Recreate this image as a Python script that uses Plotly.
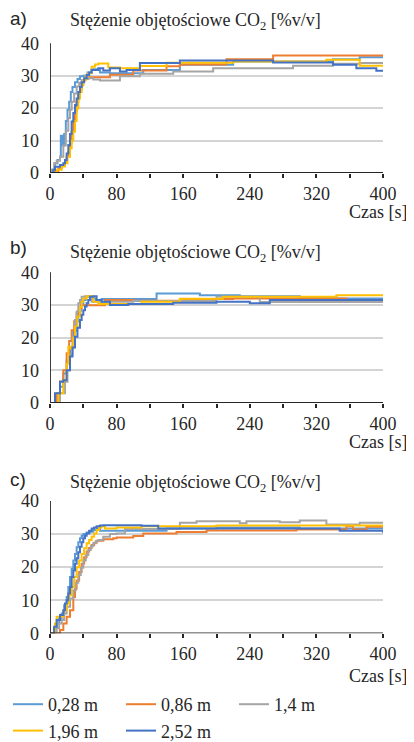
import plotly.graph_objects as go

W, H = 414, 742
names = ["0,28 m", "0,86 m", "1,4 m", "1,96 m", "2,52 m"]
colors = ["#5B9BD5", "#ED7D31", "#A5A5A5", "#FFC000", "#4472C4"]
x_ticks = [0, 80, 160, 240, 320, 400]
y_ticks = [0, 10, 20, 30, 40]
panel_labels = ["a)", "b)", "c)"]
y_title = "Stężenie objętościowe CO<sub>2</sub> [%v/v]"
x_title = "Czas [s]"

# ---- panel a ----
a_t_028 = [0, 3, 6, 9, 12, 13, 15, 17, 19, 21, 23, 25, 27, 30, 33, 36, 40, 45, 50, 60, 72, 112, 156, 220, 340, 372, 400]
a_v_028 = [0, 1, 3, 4, 5, 11.5, 8.5, 12, 16, 19.5, 22, 25, 26.5, 28, 29, 29.8, 30, 31, 32, 31, 30.8, 31.8, 33.4, 34.4, 35.1, 35.7, 35.7]
a_t_086 = [0, 6, 10, 14, 18, 20, 22, 24, 26, 28, 30, 32, 34, 36, 38, 40, 42, 46, 55, 72, 100, 140, 156, 212, 268, 400]
a_v_086 = [0, 0.5, 1.5, 2.5, 3.5, 5, 6.5, 9.5, 12.7, 16, 19, 22, 24, 26, 27.5, 28.5, 29.2, 29.5, 29.5, 30.3, 31.6, 32.9, 33.5, 35.1, 36.2, 36.2]
a_t_14 = [0, 2, 5, 8, 12, 16, 19, 22, 24, 26, 29, 32, 35, 38, 42, 46, 52, 60, 72, 84, 108, 148, 196, 292, 340, 372, 400]
a_v_14 = [0, 1, 3, 3.8, 5, 8.5, 13, 17, 19.5, 22, 24.5, 26.7, 27.8, 28.7, 29, 29.2, 28.8, 28.5, 28.5, 29.8, 30.6, 31.3, 32.3, 33.1, 33.7, 33.9, 33.9]
a_t_196 = [0, 8, 14, 18, 21, 24, 26, 28, 30, 32, 34, 36, 38, 40, 43, 46, 50, 54, 58, 64, 70, 84, 108, 140, 220, 332, 372, 400]
a_v_196 = [0, 1, 2, 3, 5, 7.6, 10, 12.7, 16, 20, 23, 25, 27, 28.7, 30, 30.8, 32.8, 33.5, 33.8, 33.8, 32.5, 32.3, 33, 34, 34.4, 34.9, 33.1, 33.1]
a_t_252 = [0, 4, 6, 12, 16, 18, 20, 22, 24, 26, 28, 30, 32, 34, 36, 38, 41, 44, 47, 50, 58, 64, 72, 84, 92, 108, 156, 268, 340, 368, 392, 400]
a_v_252 = [0, 1, 1.9, 2.5, 3, 4, 6, 8.6, 12, 15.9, 18.5, 21, 23, 25, 26.5, 28, 29.2, 30.2, 31, 31.8, 32.3, 31.6, 32.3, 31.3, 31.8, 33.9, 34.7, 34.1, 33.4, 32.3, 31.5, 31.5]

# ---- panel b ----
b_t_028 = [0, 4, 8, 12, 16, 20, 24, 28, 31, 34, 37, 40, 43, 46, 50, 55, 62, 128, 180, 228, 300, 344, 400]
b_v_028 = [0, 0, 2, 5, 9, 13, 17, 22, 25, 28, 30, 31.5, 32.5, 32.7, 32, 31.5, 31.8, 33.5, 33, 32.7, 32.4, 32, 32]
b_t_086 = [0, 4, 8, 12, 16, 20, 23, 26, 29, 32, 35, 38, 66, 100, 160, 220, 300, 356, 364, 400]
b_v_086 = [0, 0, 3, 6.6, 10, 15.2, 19, 22.3, 25, 27.4, 29, 29.9, 31.5, 31.3, 31.8, 32, 32, 31, 31.5, 31.5]
b_t_14 = [0, 6, 12, 18, 21, 24, 27, 30, 32, 34, 36, 38, 42, 46, 50, 100, 200, 240, 252, 276, 400]
b_v_14 = [0, 0, 3, 6.5, 10, 14.7, 20, 25.4, 28, 30.5, 31.5, 32.5, 32.7, 32.7, 31, 31.2, 32.5, 32.5, 30.9, 30.9, 30.9]
b_t_196 = [0, 6, 10, 16, 20, 22, 25, 28, 30, 33, 36, 38, 40, 44, 48, 52, 58, 110, 156, 208, 344, 400]
b_v_196 = [0, 0, 3, 7, 12, 17.2, 16.7, 20, 23.3, 26.5, 29.4, 31, 32, 32.7, 32.7, 31, 30.3, 31, 31.9, 32.5, 33, 33]
b_t_252 = [0, 2, 6, 10, 12, 16, 20, 24, 27, 30, 33, 36, 38, 40, 42, 44, 46, 48, 52, 56, 62, 72, 94, 148, 200, 240, 264, 400]
b_v_252 = [0, 0, 3, 3, 6.5, 7, 10, 14.2, 17, 20.3, 23, 25.4, 27, 28.4, 29.5, 30.5, 31.5, 32.5, 32.7, 31.5, 31, 30, 30.3, 30.7, 31, 30.5, 31.5, 31.3]

# ---- panel c ----
c_t_028 = [0, 2, 5, 8, 11, 14, 17, 20, 22, 24, 26, 28, 30, 32, 34, 36, 38, 40, 44, 48, 52, 56, 60, 100, 140, 200, 300, 400]
c_v_028 = [0, 0, 1.5, 3, 4.5, 6, 8.5, 11, 14, 17, 19.5, 22, 24, 26, 27.5, 28.7, 29.5, 30, 30.5, 30.7, 31.2, 31.7, 31, 31, 31.7, 32, 31.7, 31.7]
c_t_086 = [0, 8, 12, 16, 20, 24, 28, 30, 32, 35, 38, 41, 44, 47, 50, 53, 56, 64, 76, 80, 100, 112, 152, 188, 296, 356, 364, 380, 400]
c_v_086 = [0, 0, 1, 3, 5, 7, 11, 13.5, 16, 18.5, 21, 23, 24.7, 25.8, 26.7, 27.4, 28, 28.4, 28.7, 29, 29.4, 30.2, 30.6, 31.1, 31.4, 32.4, 31.4, 32.2, 32.2]
c_t_14 = [0, 4, 8, 11, 14, 17, 20, 24, 28, 31, 34, 37, 40, 43, 46, 49, 52, 55, 58, 64, 72, 80, 90, 156, 176, 228, 236, 276, 300, 332, 372, 400]
c_v_14 = [0, 0, 1.5, 3, 4, 6, 8, 10.5, 13, 15.3, 17.6, 19.8, 22, 23.7, 25.2, 26.3, 27.2, 27.8, 28.2, 29.2, 30, 30.2, 31.5, 33.4, 33.9, 33.3, 33.9, 33.6, 34.1, 32.9, 33.4, 33.4]
c_t_196 = [0, 4, 6, 8, 12, 16, 20, 23, 26, 29, 32, 35, 38, 41, 44, 47, 50, 53, 56, 59, 62, 66, 80, 110, 200, 400]
c_v_196 = [0, 0, 3, 5, 5, 7, 9, 11.5, 14, 17, 20, 22, 24, 25.7, 27.2, 28.2, 29.2, 30.2, 31.2, 32, 32.4, 31.7, 32, 32.4, 32.6, 32.4]
c_t_252 = [0, 2, 5, 8, 12, 16, 18, 20, 22, 24, 26, 28, 30, 32, 34, 36, 38, 40, 42, 44, 47, 50, 53, 56, 60, 64, 110, 130, 316, 348, 400]
c_v_252 = [0, 0, 2, 4, 5.5, 7, 9, 10, 12, 14, 17, 19, 21, 22.7, 24.5, 26.2, 27.5, 28.7, 29.5, 30.2, 31, 31.7, 32, 32.4, 32.6, 32.7, 32.5, 31.7, 31.7, 31, 30.4]

panels = [
    [(a_t_028, a_v_028), (a_t_086, a_v_086), (a_t_14, a_v_14), (a_t_196, a_v_196), (a_t_252, a_v_252)],
    [(b_t_028, b_v_028), (b_t_086, b_v_086), (b_t_14, b_v_14), (b_t_196, b_v_196), (b_t_252, b_v_252)],
    [(c_t_028, c_v_028), (c_t_086, c_v_086), (c_t_14, c_v_14), (c_t_196, c_v_196), (c_t_252, c_v_252)],
]

# Page places the figure at an 8px body margin; positions below are page pixels.
OFF = 8
def xp(px):
    return (px - OFF) / W
def yp(py):
    return 1 - (py - OFF) / H

# layout geometry in page pixels: (y of value 0, y of value 40)
geom = [(173, 43.3), (403, 272.3), (633.3, 501)]
title_y = [22, 253, 483]
label_y = [18, 248, 479]
czas_y = [212, 442, 676]
X0, X1 = 50, 383

SERIF = "Liberation Serif, Times New Roman, serif"
SANS = "Liberation Sans, Arial, sans-serif"
DARK = "#262626"

fig = go.Figure()
for p, series in enumerate(panels):
    xr = "x" if p == 0 else f"x{p+1}"
    yr = "y" if p == 0 else f"y{p+1}"
    for k, (t, v) in enumerate(series):
        fig.add_trace(go.Scatter(
            x=t, y=v, mode="lines", name=names[k], legendgroup=names[k],
            showlegend=(p == 0), line=dict(color=colors[k], width=2, shape="hv"),
            xaxis=xr, yaxis=yr, hoverinfo="skip"))

layout = dict(
    width=W, height=H, margin=dict(l=0, r=0, t=0, b=0, autoexpand=False),
    paper_bgcolor="white", plot_bgcolor="white",
    showlegend=True,
    legend=dict(orientation="h", x=0, xanchor="left", y=yp(686), yanchor="top",
                entrywidth=68, entrywidthmode="pixels",
                font=dict(family=SERIF, size=18, color=DARK), tracegroupgap=0,
                bgcolor="rgba(0,0,0,0)"),
    annotations=[], shapes=[],
)
for p in range(3):
    y0px, y40px = geom[p]
    xs = "xaxis" if p == 0 else f"xaxis{p+1}"
    ys = "yaxis" if p == 0 else f"yaxis{p+1}"
    xr = "x" if p == 0 else f"x{p+1}"
    yr = "y" if p == 0 else f"y{p+1}"
    layout[xs] = dict(domain=[xp(X0), xp(X1)], range=[0, 400], anchor=yr, automargin=False,
                      tickvals=x_ticks, ticktext=[str(v) for v in x_ticks],
                      ticks="outside", ticklen=4, tickwidth=1.5, tickcolor=DARK,
                      minor=dict(dtick=40, tick0=0, ticks="outside", ticklen=4, tickwidth=1.5, tickcolor=DARK),
                      showgrid=False, zeroline=False, showline=False,
                      tickfont=dict(family=SERIF, size=18, color=DARK), fixedrange=True)
    layout[ys] = dict(domain=[yp(y0px), yp(y40px)], range=[0, 40], anchor=xr, automargin=False,
                      tickvals=y_ticks, ticks="", showgrid=True, gridcolor="#d4d4d4", gridwidth=1.5,
                      zeroline=False, showline=False, ticklabelstandoff=10,
                      tickfont=dict(family=SERIF, size=18, color=DARK), fixedrange=True)
    # axis lines and arrowheads
    layout["shapes"] += [
        dict(type="line", xref=xr, yref=yr, x0=0, x1=0, ysizemode="pixel", yanchor=0,
             y0=0, y1=150, line=dict(color=DARK, width=1.8)),
        dict(type="path", xref=xr, yref=yr, xsizemode="pixel", xanchor=0, ysizemode="pixel", yanchor=0,
             path="M-6,147 L0,161 L6,147 Z", fillcolor=DARK, line=dict(width=0)),
        dict(type="line", xref=xr, yref=yr, xsizemode="pixel", xanchor=0, x0=0, x1=352,
             y0=0, y1=0, line=dict(color=DARK, width=1.8)),
        dict(type="path", xref=xr, yref=yr, xsizemode="pixel", xanchor=0, ysizemode="pixel", yanchor=0,
             path="M347,6.5 L361,0 L347,-6.5 Z", fillcolor=DARK, line=dict(width=0)),
    ]
    layout["annotations"] += [
        dict(text=y_title, xref="paper", yref="paper", x=xp(68), y=yp(title_y[p]),
             xanchor="left", yanchor="middle", showarrow=False,
             font=dict(family=SERIF, size=18, color=DARK)),
        dict(text=panel_labels[p], xref="paper", yref="paper", x=xp(8), y=yp(label_y[p]),
             xanchor="left", yanchor="middle", showarrow=False,
             font=dict(family=SANS, size=19, color=DARK)),
        dict(text=x_title, xref="paper", yref="paper", x=xp(409), y=yp(czas_y[p]),
             xanchor="right", yanchor="middle", showarrow=False,
             font=dict(family=SERIF, size=18, color=DARK)),
    ]

fig.update_layout(**layout)
fig.write_html("out.html")
